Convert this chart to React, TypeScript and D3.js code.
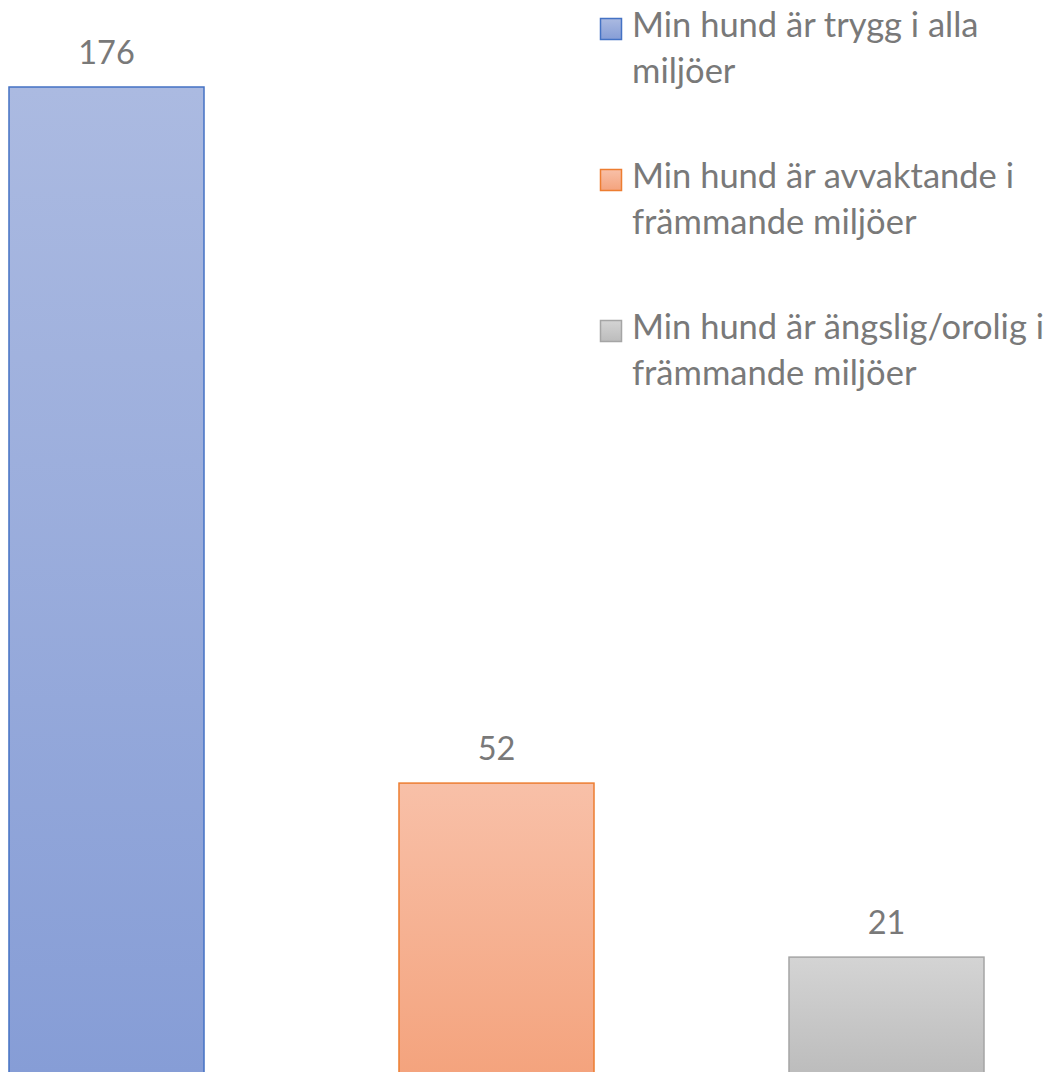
import React from "react";
import * as d3 from "d3";

const seriesNames = [
  "Min hund är trygg i alla miljöer",
  "Min hund är avvaktande i främmande miljöer",
  "Min hund är ängslig/orolig i främmande miljöer",
];
const legendLines = [
  ["Min hund är trygg i alla", "miljöer"],
  ["Min hund är avvaktande i", "främmande miljöer"],
  ["Min hund är ängslig/orolig i", "främmande miljöer"],
];
const values = [176, 52, 21];
const strokeColors = ["#4472c4", "#ed7d31", "#a5a5a5"];
const gradTop = ["#abbae1", "#f8c0a8", "#d4d4d4"];
const gradBottom = ["#869dd6", "#f4a37d", "#bcbcbc"];

const W = 1058;
const H = 1072;
const FONT = "Lato, 'Open Sans', sans-serif";
const TEXT = "#797979";

export default function App() {
  const x = d3
    .scaleBand<number>()
    .domain(d3.range(values.length))
    .range([-88.5, 1081.5])
    .paddingInner(0.5)
    .paddingOuter(0.25);
  const y = d3.scaleLinear().domain([0, 176]).range([1075, 87]);

  return (
    <svg
      width={W}
      height={H}
      style={{ position: "absolute", left: 0, top: 0, background: "#fff" }}
    >
      <defs>
        {values.map((_, i) => (
          <linearGradient key={i} id={`g${i}`} x1="0" y1="0" x2="0" y2="1">
            <stop offset="0" stopColor={gradTop[i]} />
            <stop offset="1" stopColor={gradBottom[i]} />
          </linearGradient>
        ))}
      </defs>
      {values.map((v, i) => (
        <g key={i}>
          <rect
            x={x(i)!}
            y={y(v)}
            width={x.bandwidth()}
            height={y(0) - y(v)}
            fill={`url(#g${i})`}
            stroke={strokeColors[i]}
            strokeWidth={1.5}
          />
          <text
            x={x(i)! + x.bandwidth() / 2}
            y={y(v) - 23}
            textAnchor="middle"
            fontFamily={FONT}
            fontSize={32.5}
            fill={TEXT}
          >
            {v}
          </text>
        </g>
      ))}
      {seriesNames.map((name, i) => (
        <g key={name} transform={`translate(600, ${18 + i * 151})`}>
          <rect
            x={0.5}
            y={0.5}
            width={21}
            height={21}
            fill={`url(#g${i})`}
            stroke={strokeColors[i]}
            strokeWidth={1.5}
          />
          {legendLines[i].map((ln, j) => (
            <text
              key={j}
              x={32}
              y={19 + j * 46}
              fontFamily={FONT}
              fontSize={34.5}
              fill={TEXT}
            >
              {ln}
            </text>
          ))}
        </g>
      ))}
    </svg>
  );
}
